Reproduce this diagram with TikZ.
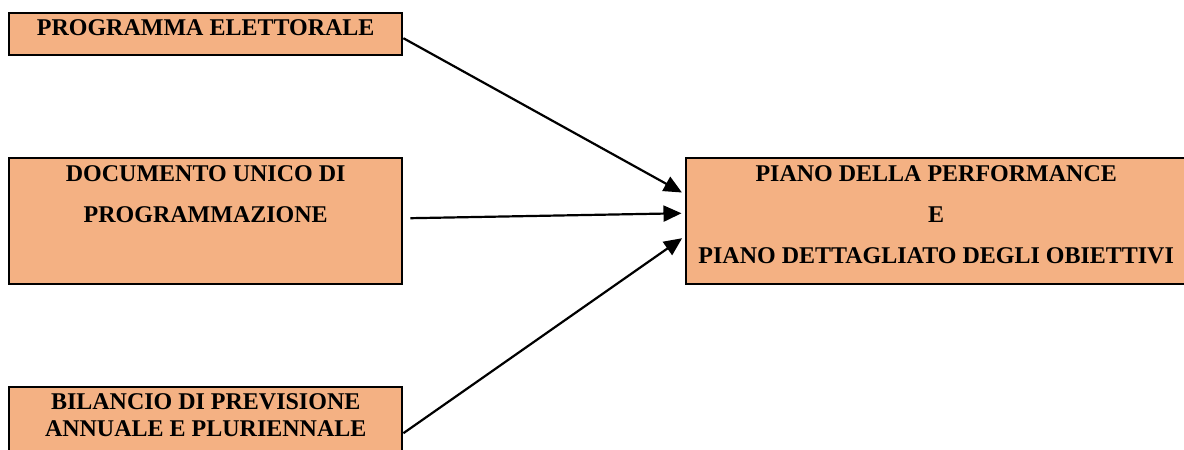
\documentclass[tikz,border=0pt]{standalone}
\usepackage{fontspec}
\setmainfont{Liberation Serif}
\usepackage{tikz}
\usetikzlibrary{positioning, arrows.meta}

\definecolor{boxfill}{HTML}{F4B183}

\tikzset{
  box/.style={draw, line width=2.4pt, fill=boxfill, anchor=north west, inner sep=0pt},
  txt/.style={font=\bfseries\fontsize{24}{41}\selectfont, align=center, inner sep=0pt},
  link/.style={-{Triangle[length=18pt,width=16pt]}, line width=2.2pt, shorten >=3.5pt},
}

\begin{document}
\begin{tikzpicture}[x=1pt, y=1pt]
                \useasboundingbox (0,0) rectangle (1184,-450);

                \node[box, minimum width=393pt, minimum height=42pt] (pe) at (8,-12) {};
                \node[box, minimum width=393pt, minimum height=126pt] (duo) at (8,-157) {};
                \node[box, minimum width=393pt, minimum height=90pt] (bil) at (8,-386) {};
                \node[box, minimum width=500pt, minimum height=126pt] (piano) at (685,-157) {};

                \node[txt, below=7.8pt of pe.north] (petxt) {PROGRAMMA ELETTORALE};
                \node[txt, below=8.5pt of duo.north] (duotxt) {DOCUMENTO UNICO DI\\PROGRAMMAZIONE};
                \node[txt, font=\bfseries\fontsize{24}{27.5}\selectfont, below=7pt of bil.north] (biltxt) {BILANCIO DI PREVISIONE\\ANNUALE E PLURIENNALE};
                \node[txt, below=8.5pt of piano.north] (pianotxt) {PIANO DELLA PERFORMANCE\\E\\PIANO DETTAGLIATO DEGLI OBIETTIVI};

                \draw[link] ([yshift=-4pt]pe.east) -- ([yshift=27pt]piano.west);
                \draw[link] ([xshift=7pt, yshift=3pt]duo.east) -- ([yshift=8pt]piano.west);
                \draw[link] ([yshift=-1pt]bil.east) -- ([yshift=-15pt]piano.west);
            \end{tikzpicture}
\end{document}
